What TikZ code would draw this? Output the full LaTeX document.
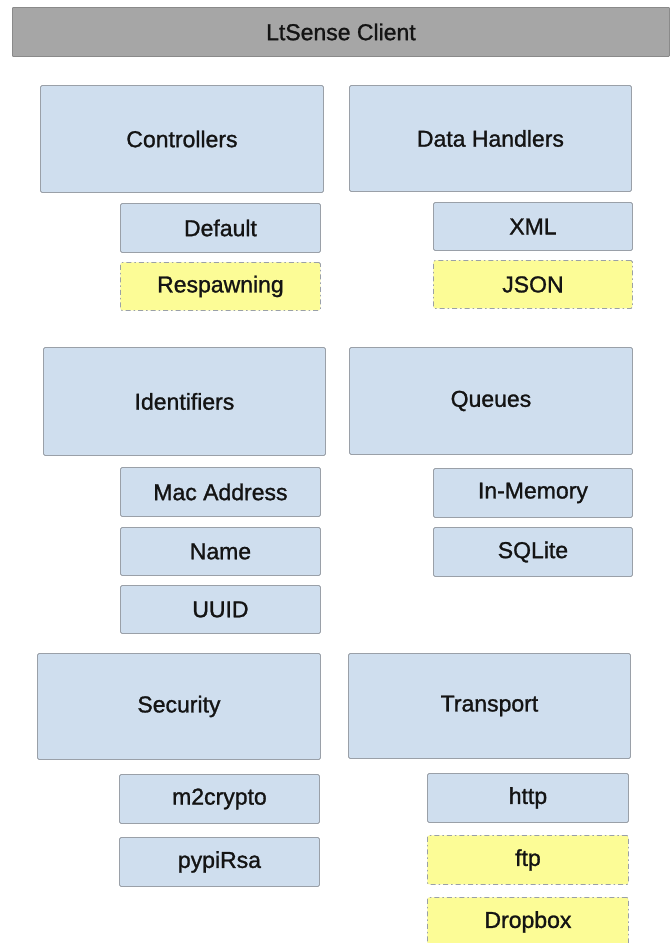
\documentclass[tikz,border=0pt]{standalone}
\usepackage{fontspec}
\setmainfont{Liberation Sans}
\newfontfamily\boxfont[FakeBold=1.2]{Liberation Sans}
\definecolor{boxfill}{HTML}{CFDEEE}
\definecolor{boxline}{HTML}{9AA0A8}
\definecolor{optfill}{HTML}{FCFC96}
\definecolor{titlefill}{HTML}{A6A6A6}
\definecolor{titleline}{HTML}{8A8A8A}
\definecolor{txt}{HTML}{141414}
\tikzset{
  base/.style={anchor=north west, inner sep=0pt, rounded corners=1.5pt, line width=0.9pt,
    text=txt, font=\boxfont\fontsize{23}{27}\selectfont},
  blk/.style={base, draw=boxline, fill=boxfill},
  opt/.style={base, draw=boxline, fill=optfill, dash pattern=on 5pt off 3pt on 1.5pt off 3pt},
  ttl/.style={base, draw=titleline, fill=titlefill, rounded corners=0.8pt},
}
\begin{document}
\begin{tikzpicture}[x=1pt,y=-1pt]
\useasboundingbox (0,0) rectangle (671,943);
% title
\node[ttl, minimum width=657pt, minimum height=49pt] (title) at (12,7) {LtSense Client};
% row 1
\node[blk, minimum width=283pt, minimum height=107pt] (ctrl) at (40,85) {Controllers};
\node[blk, minimum width=200pt, minimum height=49pt] (def) at (120,203) {Default};
\node[opt, minimum width=200pt, minimum height=48pt] (resp) at (120,262) {Respawning};
\node[blk, minimum width=282pt, minimum height=106pt] (dh) at (349,85) {Data Handlers};
\node[blk, minimum width=199pt, minimum height=48pt] (xml) at (433,202) {XML};
\node[opt, minimum width=199pt, minimum height=48pt] (json) at (433,260) {JSON};
% row 2
\node[blk, minimum width=282pt, minimum height=108pt] (ident) at (43,347) {Identifiers};
\node[blk, minimum width=200pt, minimum height=49pt] (mac) at (120,467) {Mac Address};
\node[blk, minimum width=200pt, minimum height=48pt] (name) at (120,527) {Name};
\node[blk, minimum width=200pt, minimum height=48pt] (uuid) at (120,585) {UUID};
\node[blk, minimum width=283pt, minimum height=107pt] (queues) at (349,347) {Queues};
\node[blk, minimum width=199pt, minimum height=49pt] (mem) at (433,468) {In-Memory};
\node[blk, minimum width=199pt, minimum height=49pt] (sqlite) at (433,527) {SQLite};
% row 3
\node[blk, minimum width=283pt, minimum height=106pt] (sec) at (37,653) {Security};
\node[blk, minimum width=200pt, minimum height=49pt] (m2c) at (119,774) {m2crypto};
\node[blk, minimum width=200pt, minimum height=49pt] (rsa) at (119,837) {pypiRsa};
\node[blk, minimum width=282pt, minimum height=105pt] (trans) at (348,653) {Transport};
\node[blk, minimum width=201pt, minimum height=49pt] (http) at (427,773) {http};
\node[opt, minimum width=201pt, minimum height=49pt] (ftp) at (427,835) {ftp};
\node[opt, minimum width=201pt, minimum height=49pt] (drop) at (427,897) {Dropbox};
\end{tikzpicture}
\end{document}
